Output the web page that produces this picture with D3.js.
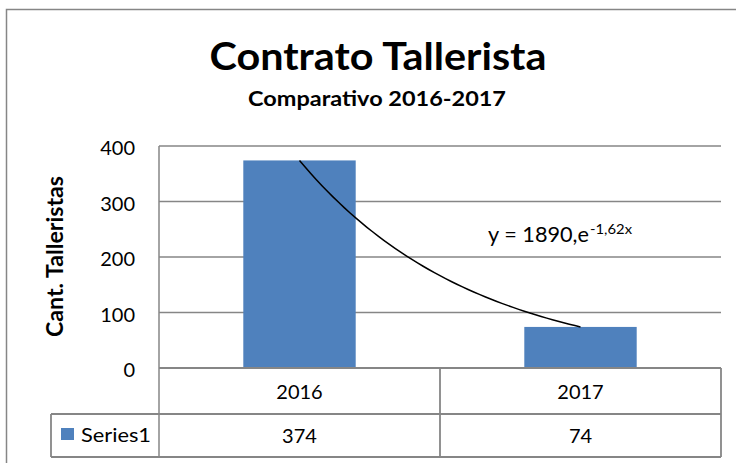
<!DOCTYPE html>
<html>
<head>
<meta charset="utf-8">
<script src="https://cdn.jsdelivr.net/npm/d3@7"></script>
<style>
  body { margin: 0; background: #fff; }
  svg text { font-family: Lato, "Open Sans", sans-serif; fill: #000; }
</style>
</head>
<body>
<svg id="grafico" width="736" height="463"></svg>
<script>
// Datos del gráfico
const categorias = ["2016", "2017"];
const valores = [374, 74];
const nombreSerie = "Series1";
const ticksY = [0, 100, 200, 300, 400];

const titulo = "Contrato Tallerista";
const subtitulo = "Comparativo 2016-2017";
const tituloEjeY = "Cant. Talleristas";

const colorBarra = "#4f81bd";
const colorLinea = "#868686";

const svg = d3.select("#grafico");

// Área del gráfico
const izq = 159, der = 721, arriba = 146, base = 368;
const filaCat = 414, filaVal = 457, leyendaIzq = 51;

const x = d3.scaleBand().domain(categorias).range([izq, der]).padding(0);
const y = d3.scaleLinear().domain([0, 400]).range([base, arriba]);
const anchoBarra = x.bandwidth() / 2.5;

// Borde exterior
svg.append("rect")
  .attr("x", 6.5).attr("y", 9.5)
  .attr("width", 760).attr("height", 480)
  .attr("fill", "none")
  .attr("stroke", colorLinea)
  .attr("stroke-width", 1.5);

// Títulos
svg.append("text")
  .attr("x", 378).attr("y", 70)
  .attr("text-anchor", "middle")
  .attr("font-size", 38).attr("font-weight", "bold")
  .attr("textLength", 337).attr("lengthAdjust", "spacingAndGlyphs")
  .text(titulo);

svg.append("text")
  .attr("x", 377).attr("y", 106)
  .attr("text-anchor", "middle")
  .attr("font-size", 20).attr("font-weight", "bold")
  .attr("textLength", 258).attr("lengthAdjust", "spacingAndGlyphs")
  .text(subtitulo);

// Líneas de cuadrícula
svg.append("g")
  .selectAll("line")
  .data(ticksY.filter(d => d > 0))
  .enter()
  .append("line")
  .attr("x1", izq).attr("x2", der)
  .attr("y1", d => y(d)).attr("y2", d => y(d))
  .attr("stroke", colorLinea)
  .attr("stroke-width", 1.5);

// Etiquetas del eje Y
svg.append("g")
  .selectAll("text")
  .data(ticksY)
  .enter()
  .append("text")
  .attr("x", 135)
  .attr("y", d => y(d) + 9)
  .attr("text-anchor", "end")
  .attr("font-size", 20)
  .text(d => d);

// Título eje Y
svg.append("text")
  .attr("transform", "translate(63,256.5) rotate(-90)")
  .attr("text-anchor", "middle")
  .attr("font-size", 23).attr("font-weight", "bold")
  .attr("textLength", 161).attr("lengthAdjust", "spacingAndGlyphs")
  .text(tituloEjeY);

// Barras
svg.append("g")
  .selectAll("rect")
  .data(valores)
  .enter()
  .append("rect")
  .attr("x", (d, i) => x(categorias[i]) + (x.bandwidth() - anchoBarra) / 2)
  .attr("y", d => y(d))
  .attr("width", anchoBarra)
  .attr("height", d => base - y(d))
  .attr("fill", colorBarra);

// Línea de tendencia exponencial (ajuste por mínimos cuadrados sobre ln y)
const xs = valores.map((d, i) => i + 1);
const lns = valores.map(d => Math.log(d));
const mx = d3.mean(xs), my = d3.mean(lns);
const b = d3.sum(xs, (v, i) => (v - mx) * (lns[i] - my)) / d3.sum(xs, v => (v - mx) ** 2);
const a = Math.exp(my - b * mx);

const xt = d3.scaleLinear()
  .domain([1, categorias.length])
  .range([x(categorias[0]) + x.bandwidth() / 2, x(categorias[categorias.length - 1]) + x.bandwidth() / 2]);
const puntosTendencia = d3.range(1, categorias.length + 0.001, 0.02);

svg.append("path")
  .datum(puntosTendencia)
  .attr("d", d3.line().x(t => xt(t)).y(t => y(a * Math.exp(b * t))))
  .attr("fill", "none")
  .attr("stroke", "#000")
  .attr("stroke-width", 1.5);

// Ecuación
svg.append("text")
  .attr("x", 488).attr("y", 242)
  .attr("font-size", 21)
  .attr("textLength", 101).attr("lengthAdjust", "spacingAndGlyphs")
  .text("y = " + Math.round(a) + ",e");
svg.append("text")
  .attr("x", 590).attr("y", 234)
  .attr("font-size", 13)
  .attr("textLength", 42).attr("lengthAdjust", "spacingAndGlyphs")
  .text(b.toFixed(2).replace(".", ",") + "x");

// Eje Y
svg.append("line")
  .attr("x1", izq).attr("x2", izq)
  .attr("y1", arriba).attr("y2", filaVal)
  .attr("stroke", colorLinea).attr("stroke-width", 1.5);

// Tabla de datos
const tabla = svg.append("g").attr("stroke", colorLinea).attr("stroke-width", 1.8);
tabla.append("line").attr("x1", izq).attr("x2", der).attr("y1", base).attr("y2", base);
tabla.append("line").attr("x1", leyendaIzq).attr("x2", der).attr("y1", filaCat).attr("y2", filaCat);
tabla.append("line").attr("x1", leyendaIzq).attr("x2", der).attr("y1", filaVal).attr("y2", filaVal);
tabla.append("line").attr("x1", leyendaIzq).attr("x2", leyendaIzq).attr("y1", filaCat).attr("y2", filaVal);
tabla.selectAll("line.col")
  .data(categorias)
  .enter()
  .append("line")
  .attr("class", "col")
  .attr("x1", d => x(d) + x.bandwidth()).attr("x2", d => x(d) + x.bandwidth())
  .attr("y1", base).attr("y2", filaVal);

svg.append("g")
  .selectAll("text")
  .data(categorias)
  .enter()
  .append("text")
  .attr("x", d => x(d) + x.bandwidth() / 2)
  .attr("y", 399)
  .attr("text-anchor", "middle")
  .attr("font-size", 20)
  .text(d => d);

svg.append("g")
  .selectAll("text")
  .data(valores)
  .enter()
  .append("text")
  .attr("x", (d, i) => x(categorias[i]) + x.bandwidth() / 2)
  .attr("y", 443)
  .attr("text-anchor", "middle")
  .attr("font-size", 20)
  .text(d => d);

// Leyenda en la tabla
svg.append("rect")
  .attr("x", 61).attr("y", 428)
  .attr("width", 13).attr("height", 12)
  .attr("fill", colorBarra);
svg.append("text")
  .attr("x", 81).attr("y", 442)
  .attr("font-size", 20)
  .attr("textLength", 70).attr("lengthAdjust", "spacingAndGlyphs")
  .text(nombreSerie);
</script>
</body>
</html>
